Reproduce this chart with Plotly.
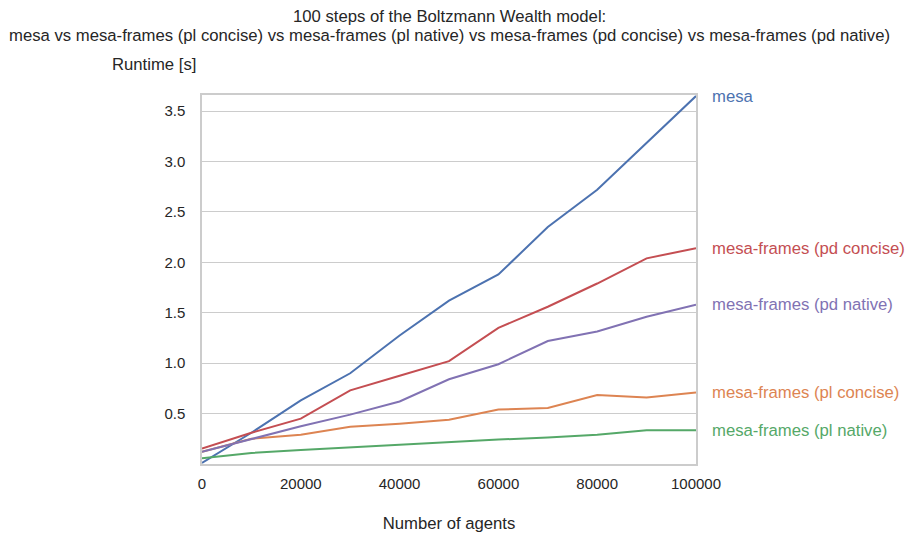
import plotly.graph_objects as go

n_agents = [0, 10000, 20000, 30000, 40000, 50000, 60000, 70000, 80000, 90000, 100000]

mesa = [0.01, 0.31, 0.63, 0.90, 1.275, 1.62, 1.88, 2.35, 2.72, 3.19, 3.65]
pd_concise = [0.153, 0.31, 0.45, 0.73, 0.876, 1.02, 1.35, 1.56, 1.79, 2.04, 2.14]
pd_native = [0.12, 0.25, 0.375, 0.49, 0.62, 0.84, 0.99, 1.22, 1.315, 1.46, 1.58]
pl_concise = [0.12, 0.25, 0.29, 0.37, 0.40, 0.44, 0.54, 0.556, 0.685, 0.66, 0.71]
pl_native = [0.057, 0.11, 0.14, 0.166, 0.196, 0.22, 0.243, 0.262, 0.29, 0.335, 0.335]

series = [
    ("mesa", mesa, "#4C72B0"),
    ("mesa-frames (pl concise)", pl_concise, "#DD8452"),
    ("mesa-frames (pl native)", pl_native, "#55A868"),
    ("mesa-frames (pd concise)", pd_concise, "#C44E52"),
    ("mesa-frames (pd native)", pd_native, "#8172B3"),
]

title_lines = [
    "100 steps of the Boltzmann Wealth model:",
    "mesa vs mesa-frames (pl concise) vs mesa-frames (pl native) vs mesa-frames (pd concise) vs mesa-frames (pd native)",
]

font = "Liberation Sans, Arial, sans-serif"
big = 16.7
W, H = 906, 534  # page body has an 8px margin

fig = go.Figure()
for name, vals, color in series:
    fig.add_trace(go.Scatter(
        x=n_agents, y=vals, mode="lines", name=name,
        line=dict(color=color, width=2), showlegend=False,
    ))
    # label at the end of each line
    fig.add_annotation(
        x=n_agents[-1], y=vals[-1], text=name, showarrow=False,
        xanchor="left", yanchor="middle", xshift=14,
        font=dict(family=font, size=big, color=color),
    )

# two-line title, placed line by line
for text, shift in zip(title_lines, [79, 60]):
    fig.add_annotation(
        x=0.5, y=1, xref="paper", yref="paper", text=text, showarrow=False,
        xanchor="center", yanchor="middle", yshift=shift,
        font=dict(family=font, size=big, color="#262626"),
    )

fig.add_annotation(
    x=0, y=1, xref="paper", yref="paper", text="Runtime [s]", showarrow=False,
    xanchor="right", yanchor="middle", xshift=-4, yshift=31,
    font=dict(family=font, size=big, color="#262626"),
)

fig.update_layout(
    width=W, height=H,
    margin=dict(l=194, r=218, t=87, b=78),
    paper_bgcolor="white", plot_bgcolor="white",
    font=dict(family=font, size=15, color="#262626"),
    xaxis=dict(
        range=[0, 100000], tickvals=[0, 20000, 40000, 60000, 80000, 100000],
        ticktext=["0", "20000", "40000", "60000", "80000", "100000"],
        showgrid=False, zeroline=False,
        showline=True, linecolor="#cccccc", linewidth=1.5, mirror=True,
        title=dict(text="Number of agents", standoff=27, font=dict(size=big)),
        ticks="", ticklen=0, ticklabelstandoff=5,
    ),
    yaxis=dict(
        range=[0, 3.66], tickvals=[0.5, 1.0, 1.5, 2.0, 2.5, 3.0, 3.5],
        ticktext=["0.5", "1.0", "1.5", "2.0", "2.5", "3.0", "3.5"],
        showgrid=True, gridcolor="#cccccc", gridwidth=1.2, zeroline=False,
        showline=True, linecolor="#cccccc", linewidth=1.5, mirror=True,
        ticks="", ticklabelstandoff=12,
    ),
)

fig.write_html("out.html")
